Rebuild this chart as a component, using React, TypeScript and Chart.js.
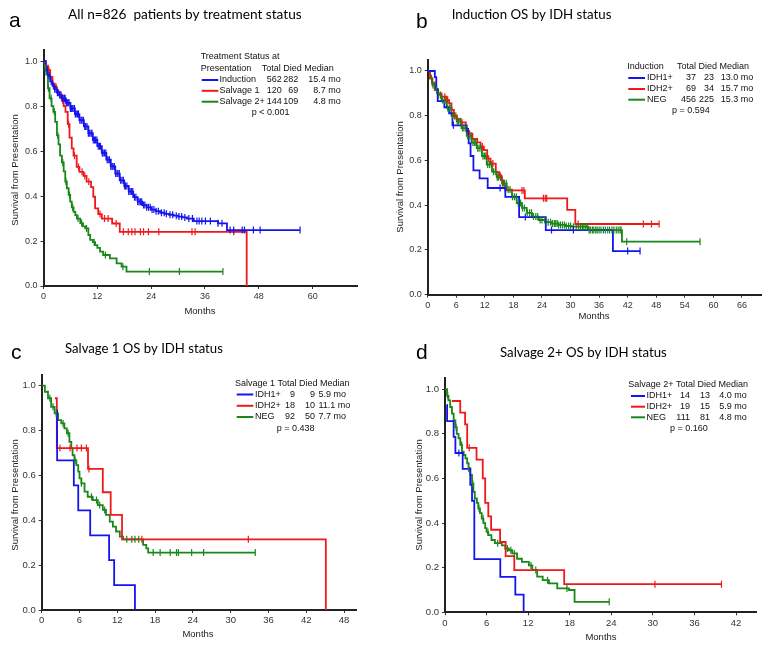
import React, { useEffect, useRef } from 'react';
import { Chart, registerables } from 'chart.js';
Chart.register(...registerables);

const PAGE_W = 771;
const PAGE_H = 650;
const BLUE = 'rgb(20,20,240)';
const RED = 'rgb(240,25,25)';
const GREEN = 'rgb(25,135,25)';

// ---------- Panel a: all patients by treatment status ----------
const aGroups = ['Induction', 'Salvage 1', 'Salvage 2+'];
const aTotal = [562, 120, 144];
const aDied = [282, 69, 109];
const aMedian = ['15.4 mo', '8.7 mo', '4.8 mo'];
const aXTicks = [0, 12, 24, 36, 48, 60];
const aInduction = [[0,1],[0.5,0.96],[1,0.935],[1.5,0.91],[2,0.89],[2.5,0.875],[3,0.86],[3.5,0.85],[4,0.835],[5,0.815],[6,0.79],[7,0.765],[8,0.738],[9,0.71],[10,0.68],[11,0.65],[12,0.622],[13,0.592],[14,0.562],[15,0.532],[16,0.5],[17,0.47],[18,0.445],[19,0.42],[20,0.395],[21,0.375],[22,0.36],[23,0.35],[24,0.34],[25,0.333],[26,0.326],[27,0.321],[28,0.317],[29,0.313],[30,0.309],[31,0.305],[32,0.3],[33.5,0.289],[38.9,0.279],[40.9,0.249],[57.2,0.249]];
const aInductionCens = [0.9,1.3,1.7,2.2,2.5,2.8,3.1,3.3,3.6,3.9,4.2,4.4,4.7,4.8,5.1,5.3,5.5,5.7,6.0,6.2,6.4,6.6,6.9,7.1,7.3,7.6,7.8,8.1,8.4,8.6,8.9,9.2,9.4,9.7,10.0,10.3,10.6,10.8,11.1,11.4,11.6,11.9,12.2,12.5,12.7,13.1,13.3,13.6,13.9,14.2,14.4,14.7,15.0,15.3,15.5,15.8,16.1,16.4,16.6,16.9,17.2,17.5,17.8,18.1,18.3,18.6,19.0,19.3,19.6,19.9,20.3,20.6,21.0,21.3,21.6,21.9,22.3,22.6,23.0,23.4,23.8,24.2,24.6,25.1,25.6,26.3,26.9,27.4,28.2,28.8,29.6,30.2,30.8,31.5,32.4,33.2,34.2,34.7,35.3,36.1,37.2,38.9,39.8,41.6,42.4,44.3,44.8,46.8,48.3,57.2];
const aSalvage1 = [[0,1],[0.5,0.98],[1,0.96],[1.5,0.93],[2,0.9],[2.5,0.885],[3,0.865],[3.5,0.85],[4.1,0.825],[4.5,0.8],[4.9,0.775],[5.4,0.72],[5.8,0.66],[6.3,0.612],[6.7,0.58],[7.4,0.53],[8,0.508],[8.9,0.49],[9.6,0.464],[10.6,0.44],[11.1,0.397],[11.5,0.345],[12.2,0.32],[13,0.3],[15.3,0.278],[17,0.241],[45.3,0]];
const aSalvage1Cens = [1.2,2.8,3.8,4.3,5.6,6.9,7.8,8.6,9.2,10.1,12.6,13.6,14.4,16.2,17.8,18.9,19.7,20.4,21.6,22.3,23.4,25.7,33.1,33.8,42.4];
const aSalvage2 = [[0,1],[0.3,0.97],[0.6,0.94],[1,0.88],[1.35,0.835],[1.8,0.8],[2.2,0.775],[2.6,0.73],[3,0.67],[3.35,0.63],[3.7,0.58],[4.1,0.55],[4.5,0.51],[4.85,0.465],[5.2,0.435],[5.6,0.405],[5.95,0.375],[6.3,0.35],[6.7,0.33],[7.1,0.315],[7.45,0.3],[8.2,0.28],[8.8,0.265],[9.3,0.256],[10,0.227],[10.4,0.205],[11,0.195],[11.5,0.182],[12,0.17],[12.6,0.153],[13.3,0.138],[14.8,0.123],[16.3,0.101],[17.4,0.086],[18.5,0.064],[40,0.064]];
const aSalvage2Cens = [0.4,1.1,1.7,2.4,3.2,4.3,5,5.8,6.5,7.7,8.5,9.6,11.3,13.8,17.7,23.6,30.3,40];

// ---------- Panel b: induction by IDH ----------
const bGroups = ['IDH1+', 'IDH2+', 'NEG'];
const bTotal = [37, 69, 456];
const bDied = [23, 34, 225];
const bMedian = ['13.0 mo', '15.7 mo', '15.3 mo'];
const bXTicks = [0, 6, 12, 18, 24, 30, 36, 42, 48, 54, 60, 66];
const bIdh1 = [[0,1],[1.5,0.973],[1.8,0.92],[2.1,0.865],[3.5,0.838],[4.5,0.811],[5.2,0.757],[8.2,0.73],[8.6,0.676],[9,0.62],[9.6,0.556],[10.9,0.52],[12.6,0.477],[16.3,0.437],[19.2,0.347],[24.8,0.289],[38.9,0.195],[44.6,0.195]];
const bIdh1Cens = [5.4,8.5,15.2,20.5,26,30.6,42,44.6];
const bIdh2 = [[0,1],[0.5,0.967],[0.9,0.945],[1.5,0.92],[2,0.9],[2.9,0.885],[4,0.87],[4.5,0.855],[5,0.826],[5.5,0.8],[6.1,0.785],[6.9,0.77],[8,0.741],[8.5,0.72],[9.4,0.696],[10.4,0.681],[11.1,0.662],[11.8,0.646],[12.5,0.608],[13.2,0.586],[14.3,0.548],[15,0.533],[15.5,0.511],[15.9,0.489],[16.3,0.466],[20.4,0.431],[29.3,0.379],[31,0.316],[48.6,0.316]];
const bIdh2Cens = [3.6,4.2,5.6,7.2,8.8,11.5,12.8,13.7,15.2,19.8,20.2,24.3,24.7,25,31.6,45.3,47,48.6];
const bNeg = [[0,1],[0.5,0.967],[1,0.937],[1.5,0.915],[2.2,0.893],[2.9,0.87],[4,0.835],[5,0.8],[6.1,0.775],[7.1,0.745],[8.2,0.71],[9.2,0.68],[10.3,0.655],[11.4,0.62],[12.4,0.582],[13.5,0.55],[14.5,0.525],[15.6,0.498],[16.6,0.47],[17.7,0.438],[18.7,0.41],[19.8,0.388],[20.8,0.366],[21.9,0.349],[23.3,0.334],[24.7,0.324],[26.1,0.318],[27.5,0.312],[28.9,0.307],[30.2,0.304],[33.7,0.289],[40.8,0.237],[57.2,0.237]];
const bNegCens = [0.8,1.1,1.4,1.9,2.3,2.7,3.1,3.5,3.8,4.2,4.6,4.9,5.2,5.6,5.9,6.2,6.5,6.9,7.3,7.6,8,8.4,8.7,9.1,9.5,9.8,10.1,10.5,10.8,11.2,11.6,11.9,12.2,12.6,13,13.4,13.8,14.2,14.6,14.9,15.3,15.7,16.1,16.5,16.9,17.3,17.8,18.2,18.6,19,19.5,19.9,20.3,20.9,21.4,21.8,22.2,22.7,23.1,23.6,24,24.6,25.3,25.8,26.2,26.6,26.9,27.2,27.5,27.9,28.3,28.7,29.1,29.6,30,30.6,31.2,31.7,32.1,32.5,32.8,33.2,33.5,33.9,34.2,34.6,34.9,35.3,35.6,36,36.4,36.9,37.3,37.8,38.2,38.7,39.1,39.6,40,40.4,40.6,41.8,57.2];

// ---------- Panel c: salvage 1 by IDH ----------
const cGroups = ['IDH1+', 'IDH2+', 'NEG'];
const cTotal = [9, 18, 92];
const cDied = [9, 10, 50];
const cMedian = ['5.9 mo', '11.1 mo', '7.7 mo'];
const cXTicks = [0, 6, 12, 18, 24, 30, 36, 42, 48];
const cIdh1 = [[2.4,0.889],[2.45,0.667],[5.1,0.556],[5.8,0.444],[7.7,0.333],[10.7,0.222],[11.5,0.111],[14.8,0]];
const cIdh1Cens: number[] = [];
const cIdh2 = [[2.1,0.944],[2.4,0.722],[7.35,0.629],[9.7,0.525],[10.95,0.424],[12.75,0.315],[45.1,0]];
const cIdh2Cens = [2.9,4.5,5.6,6.3,7.1,7.5,15.9,32.8];
const cNeg = [[0,1],[0.5,0.973],[1,0.944],[1.5,0.906],[2.05,0.877],[2.6,0.847],[3.1,0.832],[3.6,0.81],[4,0.788],[4.4,0.75],[4.7,0.721],[4.9,0.69],[5.2,0.668],[5.5,0.646],[5.8,0.617],[6,0.587],[6.3,0.565],[6.8,0.528],[7.3,0.505],[8.1,0.49],[8.9,0.468],[9.7,0.446],[10.2,0.424],[10.8,0.394],[11.3,0.372],[11.8,0.35],[12.4,0.327],[12.9,0.315],[16.1,0.29],[16.6,0.275],[16.9,0.256],[33.9,0.256]];
const cNegCens = [1.3,1.8,2.3,3.4,4.2,5.3,6.3,7.9,8.7,9.2,10,13.5,14.3,14.8,15.4,17.7,18.8,20.4,21.4,21.7,23.8,25.7,33.9];

// ---------- Panel d: salvage 2+ by IDH ----------
const dGroups = ['IDH1+', 'IDH2+', 'NEG'];
const dTotal = [14, 19, 111];
const dDied = [13, 15, 81];
const dMedian = ['4.0 mo', '5.9 mo', '4.8 mo'];
const dXTicks = [0, 6, 12, 18, 24, 30, 36, 42];
const dIdh1 = [[0.25,0.929],[0.3,0.857],[1.25,0.786],[1.5,0.714],[2.55,0.643],[3.65,0.571],[3.9,0.5],[4.23,0.238],[7.98,0.159],[10.15,0.079],[11.35,0]];
const dIdh1Cens = [2.0];
const dIdh2 = [[1,0.947],[2.2,0.895],[2.9,0.842],[3.2,0.737],[4.55,0.684],[5.45,0.6],[5.8,0.49],[6.25,0.43],[6.65,0.37],[7.95,0.315],[8.75,0.252],[10,0.189],[17.2,0.126],[39.9,0.126]];
const dIdh2Cens = [3.5,30.3,39.9];
const dNeg = [[0,1],[0.3,0.97],[0.5,0.95],[0.75,0.92],[1,0.89],[1.25,0.86],[1.5,0.83],[1.7,0.8],[1.95,0.78],[2.2,0.75],[2.45,0.72],[2.7,0.705],[2.95,0.69],[3.2,0.668],[3.4,0.646],[3.65,0.616],[3.9,0.578],[4.1,0.54],[4.3,0.51],[4.6,0.49],[4.8,0.466],[5.05,0.444],[5.3,0.42],[5.55,0.4],[5.8,0.377],[6,0.36],[6.25,0.346],[6.7,0.324],[7.2,0.31],[8.2,0.3],[8.7,0.286],[9.2,0.278],[9.7,0.264],[10.4,0.24],[11.1,0.226],[12.1,0.21],[12.6,0.19],[13.3,0.16],[14.1,0.144],[15,0.13],[16.2,0.107],[17.9,0.1],[18.7,0.047],[23.7,0.047]];
const dNegCens = [0.4,1.6,2.4,3.4,4,4.9,5.5,6.2,7.6,9,9.5,10,12.4,13.1,14.8,17.6,23.7];

const yTicks = [0, 0.2, 0.4, 0.6, 0.8, 1.0];

// value of a step curve at time t
function stepAt(pts: number[][], t: number) {
  let s = pts[0][1];
  for (const p of pts) {
    if (p[0] <= t) s = p[1];
    else break;
  }
  return s;
}

const SANS = '"Liberation Sans", Arial, sans-serif';
const TITLE_FONT = 'Lato, "Open Sans", sans-serif';

type Legend = {
  headers: [string, number, number][];
  rowsY: number[];
  line: [number, number];
  labelX: number;
  totalR: number;
  diedR: number;
  medianX: number;
  medianAlign: CanvasTextAlign;
  p: [string, number, number];
  groups: string[];
  total: number[];
  died: number[];
  median: string[];
};

const panels = [
  {
    letter: 'a', letterPos: [9, 26.5], title: 'All n=826  patients by treatment status', titleBox: [68, 302, 18.5],
    area: { l: 43.5, r: 357.5, t: 50, b: 286 }, xMax: 70, xTicks: aXTicks, tickSize: 9,
    yTitle: [15, 170], xTitle: [200, 311],
    curves: [
      { pts: aInduction, cens: aInductionCens, color: BLUE },
      { pts: aSalvage1, cens: aSalvage1Cens, color: RED },
      { pts: aSalvage2, cens: aSalvage2Cens, color: GREEN },
    ],
    legend: {
      headers: [['Treatment Status at', 200.7, 57], ['Presentation', 200.7, 69], ['Total Died Median', 261.7, 69]],
      rowsY: [80, 90.8, 101.7], line: [201.7, 218.3], labelX: 219.5, totalR: 281.7, diedR: 298.3, medianX: 340.7, medianAlign: 'right',
      p: ['p < 0.001', 251.7, 113], groups: aGroups, total: aTotal, died: aDied, median: aMedian,
    } as Legend,
  },
  {
    letter: 'b', letterPos: [416, 28], title: 'Induction OS by IDH status', titleBox: [451.7, 611.7, 18.5],
    area: { l: 427.7, r: 761, t: 59.8, b: 294.7 }, xMax: 70, xTicks: bXTicks, tickSize: 9,
    yTitle: [400, 177], xTitle: [594, 316],
    curves: [
      { pts: bIdh1, cens: bIdh1Cens, color: BLUE },
      { pts: bIdh2, cens: bIdh2Cens, color: RED },
      { pts: bNeg, cens: bNegCens, color: GREEN },
    ],
    legend: {
      headers: [['Induction', 627.3, 66.5], ['Total Died Median', 677, 66.5]],
      rowsY: [78, 89, 99.7], line: [628.3, 645], labelX: 647, totalR: 696, diedR: 714, medianX: 753.3, medianAlign: 'right',
      p: ['p = 0.594', 672, 110.3], groups: bGroups, total: bTotal, died: bDied, median: bMedian,
    } as Legend,
  },
  {
    letter: 'c', letterPos: [11, 358.5], title: 'Salvage 1 OS by IDH status', titleBox: [65, 223, 352.5],
    area: { l: 41.7, r: 356.7, t: 374.5, b: 610 }, xMax: 50, xTicks: cXTicks, tickSize: 9.5,
    yTitle: [15, 495], xTitle: [198, 634],
    curves: [
      { pts: cIdh1, cens: cIdh1Cens, color: BLUE },
      { pts: cIdh2, cens: cIdh2Cens, color: RED },
      { pts: cNeg, cens: cNegCens, color: GREEN },
    ],
    legend: {
      headers: [['Salvage 1 Total Died Median', 235, 383.3]],
      rowsY: [394.5, 405.8, 417], line: [236.7, 253.3], labelX: 255, totalR: 295, diedR: 315, medianX: 318.5, medianAlign: 'left',
      p: ['p = 0.438', 276.7, 429], groups: cGroups, total: cTotal, died: cDied, median: cMedian,
    } as Legend,
  },
  {
    letter: 'd', letterPos: [416, 358.5], title: 'Salvage 2+ OS by IDH status', titleBox: [500, 667, 356.5],
    area: { l: 445, r: 756.8, t: 378, b: 612.3 }, xMax: 45, xTicks: dXTicks, tickSize: 9.5,
    yTitle: [419, 495], xTitle: [601, 637],
    curves: [
      { pts: dIdh1, cens: dIdh1Cens, color: BLUE },
      { pts: dIdh2, cens: dIdh2Cens, color: RED },
      { pts: dNeg, cens: dNegCens, color: GREEN },
    ],
    legend: {
      headers: [['Salvage 2+ Total Died Median', 628.3, 385]],
      rowsY: [396, 406.7, 417.3], line: [631, 645], labelX: 646.5, totalR: 690, diedR: 710, medianX: 746.7, medianAlign: 'right',
      p: ['p = 0.160', 670, 428.7], groups: dGroups, total: dTotal, died: dDied, median: dMedian,
    } as Legend,
  },
];

type PanelCfg = typeof panels[number];

const Y_AXIS_W = 28;
const X_AXIS_H = 22;

function drawText(chart: any, p: PanelCfg) {
  const ctx: CanvasRenderingContext2D = chart.ctx;
  ctx.save();
  ctx.fillStyle = '#000';
  ctx.textBaseline = 'alphabetic';
  // panel letter
  ctx.font = `21px ${SANS}`;
  ctx.textAlign = 'left';
  ctx.fillText(p.letter, p.letterPos[0], p.letterPos[1]);
  // title, fitted to measured width
  const [tx1, tx2, ty] = p.titleBox;
  ctx.font = `15px ${TITLE_FONT}`;
  const m = ctx.measureText(p.title).width;
  const size = (15 * (tx2 - tx1)) / m;
  ctx.font = `${size}px ${TITLE_FONT}`;
  ctx.fillText(p.title, tx1, ty);
  // axis titles
  ctx.fillStyle = '#222';
  ctx.font = `9.5px ${SANS}`;
  ctx.textAlign = 'center';
  ctx.textBaseline = 'middle';
  ctx.fillText('Months', p.xTitle[0], p.xTitle[1]);
  ctx.save();
  ctx.translate(p.yTitle[0], p.yTitle[1]);
  ctx.rotate(-Math.PI / 2);
  ctx.fillText('Survival from Presentation', 0, 0);
  ctx.restore();
  // legend
  const L = p.legend;
  const colors = [BLUE, RED, GREEN];
  ctx.font = `9px ${SANS}`;
  ctx.fillStyle = '#111';
  ctx.textAlign = 'left';
  for (const h of L.headers) ctx.fillText(h[0], h[1], h[2]);
  L.groups.forEach((g, i) => {
    const y = L.rowsY[i];
    ctx.strokeStyle = colors[i];
    ctx.lineWidth = 2;
    ctx.beginPath();
    ctx.moveTo(L.line[0], y);
    ctx.lineTo(L.line[1], y);
    ctx.stroke();
    ctx.textAlign = 'left';
    ctx.fillText(g, L.labelX, y);
    ctx.textAlign = 'right';
    ctx.fillText(String(L.total[i]), L.totalR, y);
    ctx.fillText(String(L.died[i]), L.diedR, y);
    ctx.textAlign = L.medianAlign;
    ctx.fillText(L.median[i], L.medianX, y);
  });
  ctx.textAlign = 'left';
  ctx.fillText(L.p[0], L.p[1], L.p[2]);
  ctx.restore();
}

function PanelChart({ p }: { p: PanelCfg }) {
  const ref = useRef<HTMLCanvasElement>(null);
  useEffect(() => {
    if (!ref.current) return;
    const a = p.area;
    const lineSets = p.curves.map((c) => ({
      type: 'line' as const,
      data: c.pts.map((q) => ({ x: q[0], y: q[1] })),
      borderColor: c.color,
      borderWidth: 1.8,
      stepped: 'before' as const,
      pointRadius: 0,
      pointHoverRadius: 0,
      fill: false,
    }));
    const censSets = p.curves.map((c) => ({
      type: 'scatter' as const,
      data: c.cens.map((t) => ({ x: t, y: stepAt(c.pts, t) })),
      showLine: false,
      pointStyle: 'line' as const,
      rotation: 90,
      pointRadius: 3.5,
      pointHoverRadius: 3.5,
      pointBorderColor: c.color,
      pointBackgroundColor: c.color,
      pointBorderWidth: 1.2,
      borderColor: c.color,
    }));
    const axisCommon = {
      type: 'linear' as const,
      grid: { display: true, drawOnChartArea: false, drawTicks: true, tickLength: 3, color: '#333', lineWidth: 1 },
      border: { display: true, color: '#222', width: 2 },
    };
    const chart = new Chart(ref.current, {
      type: 'line',
      data: { datasets: [...censSets, ...lineSets] as any },
      options: {
        responsive: false,
        animation: false,
        events: [],
        layout: {
          padding: {
            left: a.l - Y_AXIS_W,
            right: PAGE_W - a.r,
            top: a.t,
            bottom: PAGE_H - a.b - X_AXIS_H,
          },
        },
        plugins: { legend: { display: false }, tooltip: { enabled: false }, title: { display: false } },
        scales: {
          x: {
            ...axisCommon,
            position: 'bottom',
            min: 0,
            max: p.xMax,
            afterFit: (s: any) => { s.height = X_AXIS_H; },
            afterBuildTicks: (s: any) => { s.ticks = p.xTicks.map((v) => ({ value: v })); },
            ticks: { color: '#333', font: { family: SANS, size: p.tickSize }, padding: 2, maxRotation: 0, autoSkip: false, callback: (v: any) => String(v) },
          },
          y: {
            ...axisCommon,
            position: 'left',
            min: 0,
            max: 1.05,
            afterFit: (s: any) => { s.width = Y_AXIS_W; },
            afterBuildTicks: (s: any) => { s.ticks = yTicks.map((v) => ({ value: v })); },
            ticks: { color: '#333', font: { family: SANS, size: p.tickSize }, padding: 3, autoSkip: false, callback: (v: any) => Number(v).toFixed(1) },
          },
        } as any,
      },
      plugins: [{ id: 'panelText', afterDraw: (c: any) => drawText(c, p) }],
    });
    return () => chart.destroy();
  }, [p]);
  return (
    <canvas
      ref={ref}
      width={PAGE_W}
      height={PAGE_H}
      style={{ position: 'absolute', left: 0, top: 0, width: PAGE_W, height: PAGE_H }}
    />
  );
}

export default function App() {
  return (
    <div style={{ position: 'absolute', left: 0, top: 0, width: PAGE_W, height: PAGE_H, background: '#fff', overflow: 'hidden' }}>
      {panels.map((p) => (
        <PanelChart key={p.letter} p={p} />
      ))}
    </div>
  );
}
